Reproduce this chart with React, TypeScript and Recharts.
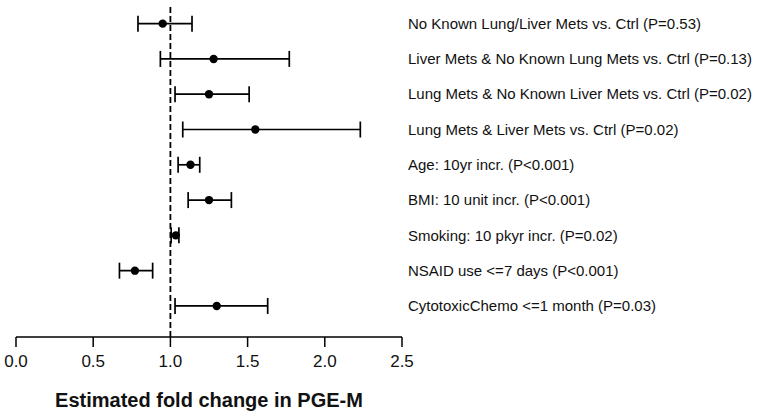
import React from "react";
import {
  ScatterChart, Scatter, XAxis, YAxis, ErrorBar, ReferenceLine, Label,
} from "recharts";

const FONT = "'Liberation Sans', Arial, sans-serif";

// one row per covariate, top to bottom
const ROWS = [1, 2, 3, 4, 5, 6, 7, 8, 9];
const LABELS = [
  "No Known Lung/Liver Mets vs. Ctrl (P=0.53)",
  "Liver Mets & No Known Lung Mets vs. Ctrl (P=0.13)",
  "Lung Mets & No Known Liver Mets vs. Ctrl (P=0.02)",
  "Lung Mets & Liver Mets vs. Ctrl (P=0.02)",
  "Age: 10yr incr. (P<0.001)",
  "BMI: 10 unit incr. (P<0.001)",
  "Smoking: 10 pkyr incr. (P=0.02)",
  "NSAID use <=7 days (P<0.001)",
  "CytotoxicChemo <=1 month (P=0.03)",
];
// fold change estimate and 95% CI
const ESTIMATE = [0.95, 1.28, 1.25, 1.55, 1.13, 1.25, 1.035, 0.77, 1.30];
const LOWER = [0.79, 0.935, 1.03, 1.08, 1.05, 1.115, 1.005, 0.67, 1.03];
const UPPER = [1.14, 1.77, 1.51, 2.23, 1.19, 1.395, 1.055, 0.885, 1.63];
const X_TICKS = [0, 0.5, 1, 1.5, 2, 2.5];

const data = ROWS.map((row, i) => ({
  row,
  est: ESTIMATE[i],
  ci: [ESTIMATE[i] - LOWER[i], UPPER[i] - ESTIMATE[i]],
}));

function Dot(props: any) {
  return <circle cx={props.cx} cy={props.cy} r={4.2} fill="#000" />;
}

function RowLabel({ x, y, payload }: any) {
  const text = LABELS[payload.value - 1];
  if (!text) return null;
  return (
    <text x={x} y={y} dy="0.35em" textAnchor="start" fill="#111" fontSize={15} fontFamily={FONT}>
      {text}
    </text>
  );
}

export default function App() {
  return (
    <div style={{ position: "absolute", left: 0, top: 0, width: 762, height: 415, background: "#fff" }}>
      <ScatterChart width={762} height={415} margin={{ top: 6, right: 0, bottom: 0, left: 16 }}>
        <XAxis
          type="number"
          dataKey="est"
          domain={[0, 2.5]}
          ticks={X_TICKS}
          tickFormatter={(v: number) => v.toFixed(1)}
          tick={{ fill: "#111", fontSize: 17, fontFamily: FONT }}
          tickSize={10}
          tickMargin={8}
          axisLine={{ stroke: "#000", strokeWidth: 1.5 }}
          tickLine={{ stroke: "#000", strokeWidth: 1.5 }}
          height={78}
          allowDataOverflow
        >
          <Label
            value="Estimated fold change in PGE-M"
            position="insideBottom"
            offset={8}
            style={{ fill: "#111", fontSize: 20, fontWeight: 700, fontFamily: FONT }}
          />
        </XAxis>
        <YAxis
          type="number"
          dataKey="row"
          orientation="right"
          domain={[0.5, 9.88]}
          reversed
          allowDataOverflow
          ticks={ROWS}
          interval={0}
          width={360}
          axisLine={false}
          tickLine={false}
          tickSize={6}
          tickMargin={0}
          tick={<RowLabel />}
        />
        <ReferenceLine x={1} stroke="#000" strokeWidth={1.8} strokeDasharray="6 3" />
        <Scatter data={data} shape={<Dot />} isAnimationActive={false}>
          <ErrorBar dataKey="ci" direction="x" width={8} stroke="#000" strokeWidth={1.7} />
        </Scatter>
      </ScatterChart>
    </div>
  );
}
